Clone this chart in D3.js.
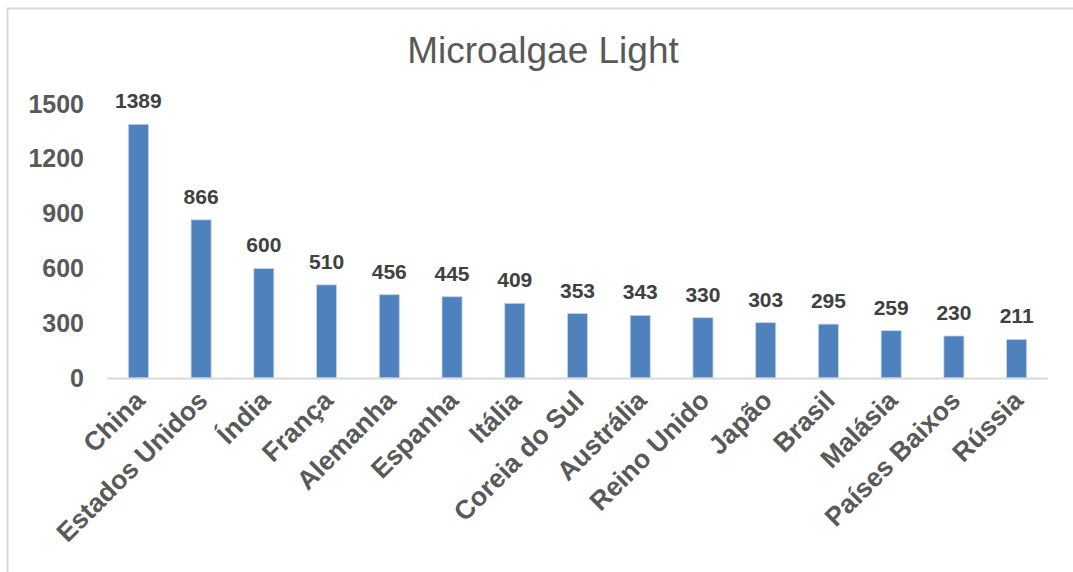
<!DOCTYPE html>
<html>
<head>
<meta charset="utf-8">
<script src="https://cdn.jsdelivr.net/npm/d3@7"></script>
<style>
  body { margin: 0; background: #fff; }
  svg { font-family: "Liberation Sans", Arial, sans-serif; }
</style>
</head>
<body>
<svg id="chart" width="1073" height="572"></svg>
<script>
// Data
var countries = ["China", "Estados Unidos", "Índia", "França", "Alemanha", "Espanha", "Itália",
  "Coreia do Sul", "Austrália", "Reino Unido", "Japão", "Brasil", "Malásia", "Países Baixos", "Rússia"];
var counts = [1389, 866, 600, 510, 456, 445, 409, 353, 343, 330, 303, 295, 259, 230, 211];
var yTicks = [0, 300, 600, 900, 1200, 1500];

var svg = d3.select("#chart");

// Chart area outline (runs off the right and bottom edges)
svg.append("rect")
  .attr("x", 7.5).attr("y", 8.5)
  .attr("width", 1100).attr("height", 600)
  .attr("fill", "#fff")
  .attr("stroke", "#d9d9d9")
  .attr("stroke-width", 2);

svg.append("text")
  .attr("x", 543).attr("y", 63)
  .attr("text-anchor", "middle")
  .attr("font-size", 37)
  .attr("fill", "#595959")
  .text("Microalgae Light");

var x = d3.scaleBand()
  .domain(countries)
  .range([107, 1048])
  .paddingInner(0.68)
  .paddingOuter(0.34);

var y = d3.scaleLinear()
  .domain([0, 1500])
  .range([378, 104]);

// Y axis labels (no line, no ticks)
var yAxis = svg.append("g")
  .attr("transform", "translate(84,0)")
  .call(d3.axisLeft(y).tickValues(yTicks).tickFormat(d3.format("d")).tickSize(0).tickPadding(0));
yAxis.select(".domain").remove();
yAxis.selectAll("text")
  .attr("font-family", "Liberation Sans, Arial, sans-serif")
  .attr("font-size", 25)
  .attr("font-weight", "bold")
  .attr("fill", "#595959");

// Bars
svg.selectAll("rect.bar")
  .data(counts)
  .enter().append("rect")
  .attr("class", "bar")
  .attr("x", function(d, i) { return x(countries[i]); })
  .attr("y", function(d) { return y(d); })
  .attr("width", x.bandwidth())
  .attr("height", function(d) { return y(0) - y(d); })
  .attr("fill", "#4f81bd")
  .attr("stroke", "#c6d6ea")
  .attr("stroke-width", 0.8);

// Baseline
svg.append("line")
  .attr("x1", 107).attr("x2", 1048)
  .attr("y1", y(0) + 0.5).attr("y2", y(0) + 0.5)
  .attr("stroke", "#d9d9d9")
  .attr("stroke-width", 2);

// Value labels
svg.selectAll("text.val")
  .data(counts)
  .enter().append("text")
  .attr("class", "val")
  .attr("x", function(d, i) { return x(countries[i]) + x.bandwidth() / 2; })
  .attr("y", function(d) { return y(d) - 16; })
  .attr("text-anchor", "middle")
  .attr("font-size", 21)
  .attr("font-weight", "bold")
  .attr("fill", "#404040")
  .text(function(d) { return d; });

// Category labels, rotated
svg.selectAll("text.cat")
  .data(countries)
  .enter().append("text")
  .attr("class", "cat")
  .attr("text-anchor", "end")
  .attr("font-size", 26.5)
  .attr("font-weight", "bold")
  .attr("fill", "#595959")
  .attr("transform", function(d) {
    var cx = x(d) + x.bandwidth() / 2 + 8;
    return "translate(" + cx + ",402) rotate(-45)";
  })
  .text(function(d) { return d; });
</script>
</body>
</html>
